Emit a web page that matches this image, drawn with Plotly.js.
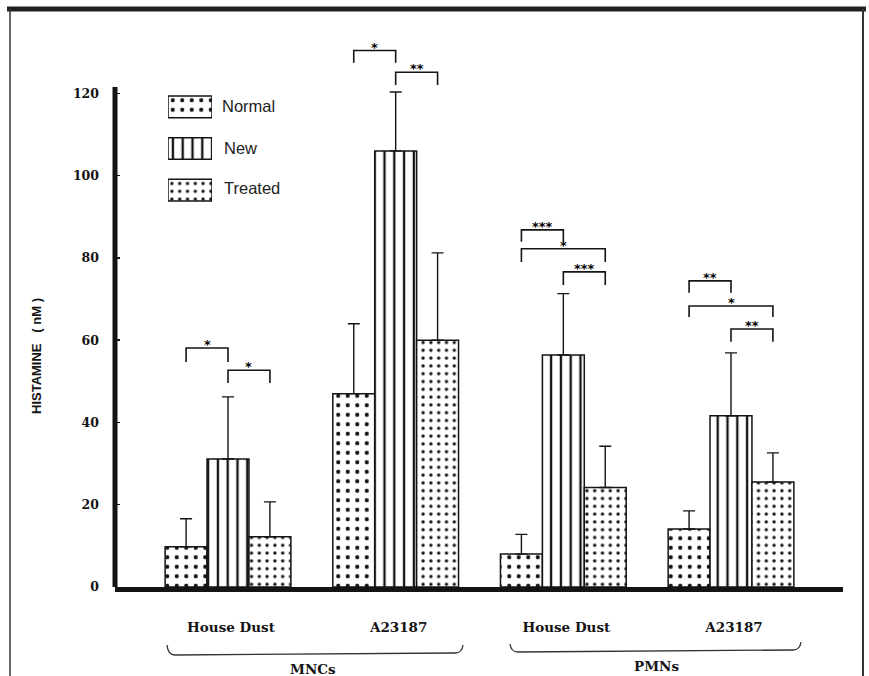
<!DOCTYPE html>
<html>
<head>
<meta charset="utf-8">
<script src="https://cdn.plot.ly/plotly-3.0.1.min.js"></script>
<style>html,body{margin:0;padding:0;background:#fff;}#chart{width:869px;height:676px;}</style>
</head>
<body>
<div id="chart"></div>
<script>
// ---- data ----
const categories = ['House Dust', 'A23187', 'House Dust', 'A23187'];
const cellGroups = ['MNCs', 'PMNs'];
const seriesNames = ['Normal', 'New', 'Treated'];
const normalVals  = [9.8, 47.0, 8.0, 14.1];
const newVals     = [31.1, 106.0, 56.4, 41.6];
const treatedVals = [12.2, 60.0, 24.2, 25.5];
// mean + SD (top of error bar)
const normalTop  = [16.6, 64.0, 12.8, 18.5];
const newTop     = [46.2, 120.3, 71.3, 56.9];
const treatedTop = [20.7, 81.2, 34.2, 32.6];
const yTicks = [0, 20, 40, 60, 80, 100, 120];
// significance brackets: group, from-series, to-series, height, leg length, label
const brGroup = [0, 0, 1, 1, 2, 2, 2, 3, 3, 3];
const brFrom  = [0, 1, 0, 1, 0, 0, 1, 0, 0, 1];
const brTo    = [1, 2, 1, 2, 1, 2, 2, 1, 2, 2];
const brY     = [58.1, 52.7, 130.4, 125.1, 86.8, 82.2, 76.6, 74.4, 68.3, 62.7];
const brLeg   = [3.4, 3.1, 3.0, 3.1, 2.9, 3.2, 3.2, 2.9, 2.7, 3.1];
const brLabel = ['*', '*', '*', '**', '***', '*', '***', '**', '*', '**'];

// ---- layout geometry ----
const W = 869, H = 676, L = 115, R = 26, T = 11, B = 89;
const PW = W - L - R, PH = H - T - B;
const px = x => (x - L) / PW;
const py = y => (H - B - y) / PH;

const ink = '#141414';
const serif = 'DejaVu Serif, serif';
const sans = 'Liberation Sans, Arial, sans-serif';

const patterns = [
  {shape: '.', size: 9.5, solidity: 0.15},
  {shape: '|', size: 9.8, solidity: 0.24},
  {shape: '.', size: 7.8, solidity: 0.15}
];
const values = [normalVals, newVals, treatedVals];
const tops = [normalTop, newTop, treatedTop];
const xIdx = categories.map((_, i) => i);

const traces = seriesNames.map((name, s) => ({
  type: 'bar',
  name: name,
  x: xIdx,
  y: values[s],
  showlegend: false,
  marker: {
    color: '#ffffff',
    line: {color: ink, width: 1.5},
    pattern: {shape: patterns[s].shape, size: patterns[s].size, solidity: patterns[s].solidity,
              fgcolor: ink, bgcolor: '#ffffff', fillmode: 'replace'}
  },
  error_y: {
    type: 'data', symmetric: false,
    array: tops[s].map((t, i) => t - values[s][i]),
    arrayminus: values[s].map(() => 0),
    color: ink, thickness: 1.4, width: 6
  },
  hoverinfo: 'skip'
}));

// legend swatches drawn as bars on their own small axes
traces.push({
  type: 'bar', orientation: 'h',
  x: seriesNames.map(() => 1), y: seriesNames,
  xaxis: 'x2', yaxis: 'y2', width: 0.52, showlegend: false, hoverinfo: 'skip',
  marker: {
    color: '#ffffff',
    line: {color: ink, width: 1.5},
    pattern: {shape: patterns.map(p => p.shape), size: patterns.map(p => p.size),
              solidity: patterns.map(p => p.solidity), fgcolor: ink, bgcolor: '#ffffff', fillmode: 'replace'}
  }
});

const barW = 0.25;
const shapes = [];
const annotations = [];

brGroup.forEach((g, k) => {
  const x0 = g + (brFrom[k] - 1) * barW;
  const x1 = g + (brTo[k] - 1) * barW;
  const y = brY[k], yl = brY[k] - brLeg[k];
  shapes.push({type: 'path', xref: 'x', yref: 'y',
    path: `M${x0},${yl} L${x0},${y} L${x1},${y} L${x1},${yl}`,
    line: {color: ink, width: 1.6}});
  annotations.push({xref: 'x', yref: 'y', x: (x0 + x1) / 2, y: y, text: brLabel[k],
    showarrow: false, xanchor: 'center', yanchor: 'bottom', yshift: -6,
    font: {family: 'DejaVu Sans, sans-serif', size: 13, color: '#000', weight: 700}});
});

// y axis line (stops at the top tick)
shapes.push({type: 'line', xref: 'paper', yref: 'y', x0: 0, x1: 0, y0: -1.2, y1: 121.5,
  line: {color: ink, width: 5}});

// frame of the figure
shapes.push({type: 'line', xref: 'paper', yref: 'paper', x0: px(7), x1: px(866), y0: py(9), y1: py(9), line: {color: '#222', width: 5}});
shapes.push({type: 'line', xref: 'paper', yref: 'paper', x0: px(10), x1: px(10), y0: py(9), y1: py(676), line: {color: '#333', width: 1.5}});
shapes.push({type: 'line', xref: 'paper', yref: 'paper', x0: px(863), x1: px(863), y0: py(9), y1: py(676), line: {color: '#333', width: 2}});

// braces under the category labels
const brace = (a, b) => `M${px(a[0])},${py(a[1])} Q${px(a[0] + 1)},${py(b[1])} ${px(a[0] + 8)},${py(b[1])} ` +
                        `L${px(b[0] - 8)},${py(b[2])} Q${px(b[0] - 1)},${py(b[2])} ${px(b[0])},${py(b[3])}`;
shapes.push({type: 'path', xref: 'paper', yref: 'paper', path: brace([167, 645], [463, 655, 653, 645]), line: {color: '#333', width: 1.3}});
shapes.push({type: 'path', xref: 'paper', yref: 'paper', path: brace([510, 644], [801, 652, 650, 642]), line: {color: '#333', width: 1.3}});

annotations.push({xref: 'paper', yref: 'paper', x: px(313), y: py(669), text: cellGroups[0], showarrow: false,
  xanchor: 'center', yanchor: 'middle', font: {family: serif, size: 13.5, color: ink, weight: 700}});
annotations.push({xref: 'paper', yref: 'paper', x: px(656), y: py(666), text: cellGroups[1], showarrow: false,
  xanchor: 'center', yanchor: 'middle', font: {family: serif, size: 13.5, color: ink, weight: 700}});

// y-axis title
annotations.push({xref: 'paper', yref: 'paper', x: px(37), y: py(356), text: 'HISTAMINE\u00a0\u00a0\u00a0( nM )',
  textangle: -90, showarrow: false, xanchor: 'center', yanchor: 'middle',
  font: {family: sans, size: 13, color: ink, weight: 700}});

// legend labels
const legY = [106, 148, 188];
seriesNames.forEach((n, i) => {
  annotations.push({xref: 'paper', yref: 'paper', x: px(220 + (i ? 2 : 0)), y: py(legY[i]), text: n,
    showarrow: false, xanchor: 'left', yanchor: 'middle', font: {family: sans, size: 16.5, color: '#222'}});
});

const layout = {
  width: W, height: H,
  margin: {l: L, r: R, t: T, b: B, pad: 0},
  paper_bgcolor: '#ffffff', plot_bgcolor: 'rgba(0,0,0,0)',
  barmode: 'group', bargap: 0.25, bargroupgap: 0,
  xaxis: {
    range: [-0.674, 3.668], tickvals: xIdx, ticktext: categories,
    showline: true, linewidth: 5, linecolor: ink, showgrid: false, zeroline: false,
    ticks: '', ticklabelstandoff: 24, ticklabelshift: 3,
    tickfont: {family: serif, size: 13.5, color: ink, weight: 700}
  },
  yaxis: {
    range: [0, 140], tickvals: yTicks, ticktext: yTicks.map(String),
    showline: false, showgrid: false, zeroline: false,
    ticks: 'inside', ticklen: 5, tickwidth: 1.5, tickcolor: ink, ticklabelstandoff: 15,
    tickfont: {family: serif, size: 12.5, color: ink, weight: 700}
  },
  xaxis2: {domain: [px(168), px(212)], range: [0, 1], anchor: 'y2', visible: false, fixedrange: true},
  yaxis2: {domain: [py(211), py(86)], range: [2.5, -0.5], type: 'category', anchor: 'x2', visible: false, fixedrange: true},
  shapes: shapes,
  annotations: annotations,
  showlegend: false
};

Plotly.newPlot('chart', traces, layout, {staticPlot: true, displayModeBar: false});
</script>
</body>
</html>
